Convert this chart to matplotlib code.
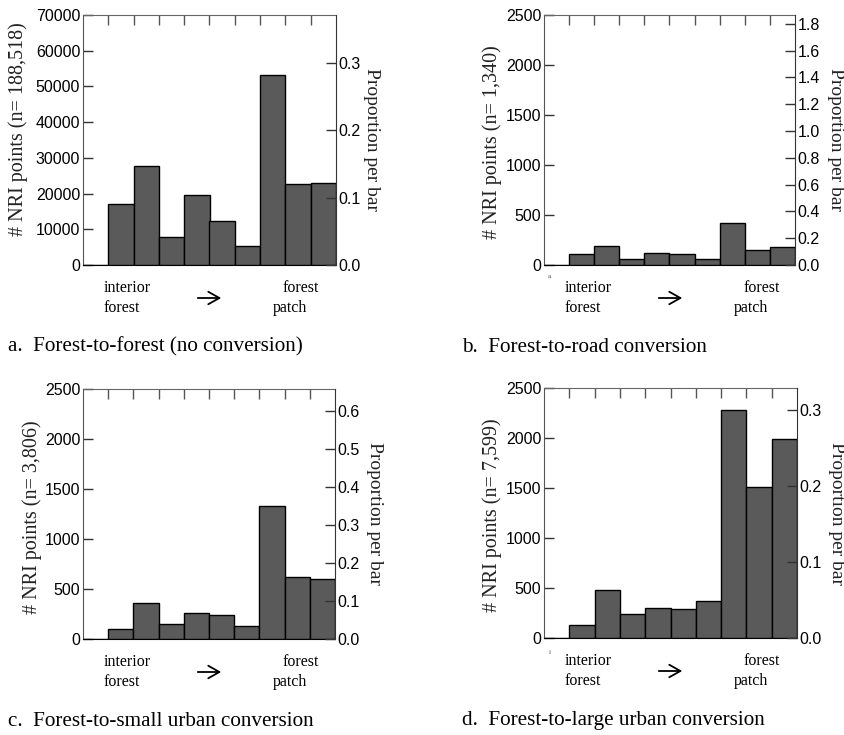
import numpy as np
import matplotlib
matplotlib.use("Agg")
import matplotlib.pyplot as plt
from matplotlib.ticker import FormatStrFormatter

# ---- data ----
bins = list(range(10))
counts_a = [0, 17200, 27700, 7800, 19500, 12400, 5200, 53200, 22800, 23050]
counts_b = [0, 106, 190, 55, 118, 106, 55, 420, 150, 176]
counts_c = [0, 97, 360, 150, 263, 243, 130, 1328, 616, 603]
counts_d = [0, 130, 480, 243, 297, 287, 373, 2280, 1507, 1993]
n_values = [188518, 1340, 3806, 7599]
n_labels = ["188,518", "1,340", "3,806", "7,599"]
left_max = [70000, 2500, 2500, 2500]
left_step = [10000, 500, 500, 500]
right_ticks = [[0.0, 0.1, 0.2, 0.3],
               [0.0, 0.2, 0.4, 0.6, 0.8, 1.0, 1.2, 1.4, 1.6, 1.8],
               [0.0, 0.1, 0.2, 0.3, 0.4, 0.5, 0.6],
               [0.0, 0.1, 0.2, 0.3]]
captions = ["a.  Forest-to-forest (no conversion)",
            "b.  Forest-to-road conversion",
            "c.  Forest-to-small urban conversion",
            "d.  Forest-to-large urban conversion"]
all_counts = [counts_a, counts_b, counts_c, counts_d]

W, H = 845, 735
fig = plt.figure(figsize=(W / 100, H / 100), dpi=100)

SERIF = ["Liberation Serif", "DejaVu Serif"]
SANS = ["Liberation Sans", "DejaVu Sans"]

# axes boxes in pixels: left, top, right, bottom
boxes = [(83, 15, 336, 265), (544, 15, 795, 265),
         (83, 389, 335, 639), (544, 388, 797, 638)]
ylab_pos = [(18, 129), (492, 142), (32, 517), (492, 515)]
rlab_off = [36, 41, 40, 40]


def fx(x):
    return x / W


def fy(y):
    return 1 - y / H


for i in range(4):
    l, t, r, b = boxes[i]
    ax = fig.add_axes([fx(l), fy(b), (r - l) / W, (b - t) / H])
    ax.bar(bins, all_counts[i], width=1, align='edge', color='#5a5a5a',
           edgecolor='black', linewidth=1.0, zorder=3)
    ax.set_xlim(0, 10)
    ax.set_ylim(0, left_max[i])
    ax.set_yticks(np.arange(0, left_max[i] + 1, left_step[i]))
    ax.set_xticks(np.arange(1, 10))
    ax.tick_params(axis='x', which='both', bottom=False, top=True,
                   labelbottom=False, direction='in', length=7,
                   width=1, color='#555')
    ax.tick_params(axis='y', direction='in', length=7, width=1,
                   color='#333', pad=2, labelsize=11.5)
    for lab in ax.get_yticklabels():
        lab.set_family(SANS)
    ax.spines['left'].set_color('#555')
    ax.spines['top'].set_color('#666')
    ax.spines['bottom'].set_color('black')
    ax.spines['right'].set_visible(False)

    ax2 = ax.twinx()
    ax2.set_ylim(0, left_max[i] / n_values[i])
    ax2.set_yticks(right_ticks[i])
    ax2.yaxis.set_major_formatter(FormatStrFormatter('%.1f'))
    ax2.tick_params(axis='y', direction='in', length=7, width=1,
                    color='#333', pad=2, labelsize=11.5)
    for lab in ax2.get_yticklabels():
        lab.set_family(SANS)
    for s in ['left', 'top', 'bottom']:
        ax2.spines[s].set_visible(False)
    ax2.spines['right'].set_color('#333')

    # y labels
    xl, yl = ylab_pos[i]
    fig.text(fx(xl), fy(yl), f"# NRI points (n= {n_labels[i]})",
             rotation=90, ha='center', va='center', family=SERIF,
             fontsize=14.5, color='#222')
    fig.text(fx(r + rlab_off[i]), fy((t + b) / 2), "Proportion per bar",
             rotation=270, ha='center', va='center', family=SERIF,
             fontsize=14, color='#222')

    # bottom annotations
    fig.text(fx(l + 21), fy(b + 23), "interior", ha='left', va='center',
             family=SERIF, fontsize=11.5)
    fig.text(fx(l + 21), fy(b + 43), "forest", ha='left', va='center',
             family=SERIF, fontsize=11.5)
    fig.text(fx(l + 218), fy(b + 23), "forest", ha='center', va='center',
             family=SERIF, fontsize=11.5)
    fig.text(fx(l + 207), fy(b + 43), "patch", ha='center', va='center',
             family=SERIF, fontsize=11.5)
    fig.add_artist(matplotlib.patches.FancyArrowPatch(
        (fx(l + 112), fy(b + 33)), (fx(l + 141), fy(b + 33)),
        transform=fig.transFigure,
        arrowstyle='->,head_length=8,head_width=4.5',
        mutation_scale=1, lw=1.3, color='black'))

    # captions
    cx = 8 if i in (0, 2) else 462
    cy = 347 if i < 2 else 721
    fig.text(fx(cx), fy(cy), captions[i], ha='left', va='center',
             family=SERIF, fontsize=15.2)

# small stray marks under panels b and d
fig.text(fx(549), fy(277), "a", ha='center', va='center', family=SERIF,
         fontsize=5, color='#444')
fig.text(fx(550), fy(653), "i", ha='center', va='center', family=SERIF,
         fontsize=5, color='#444')

fig.savefig("out.png", dpi=100)
